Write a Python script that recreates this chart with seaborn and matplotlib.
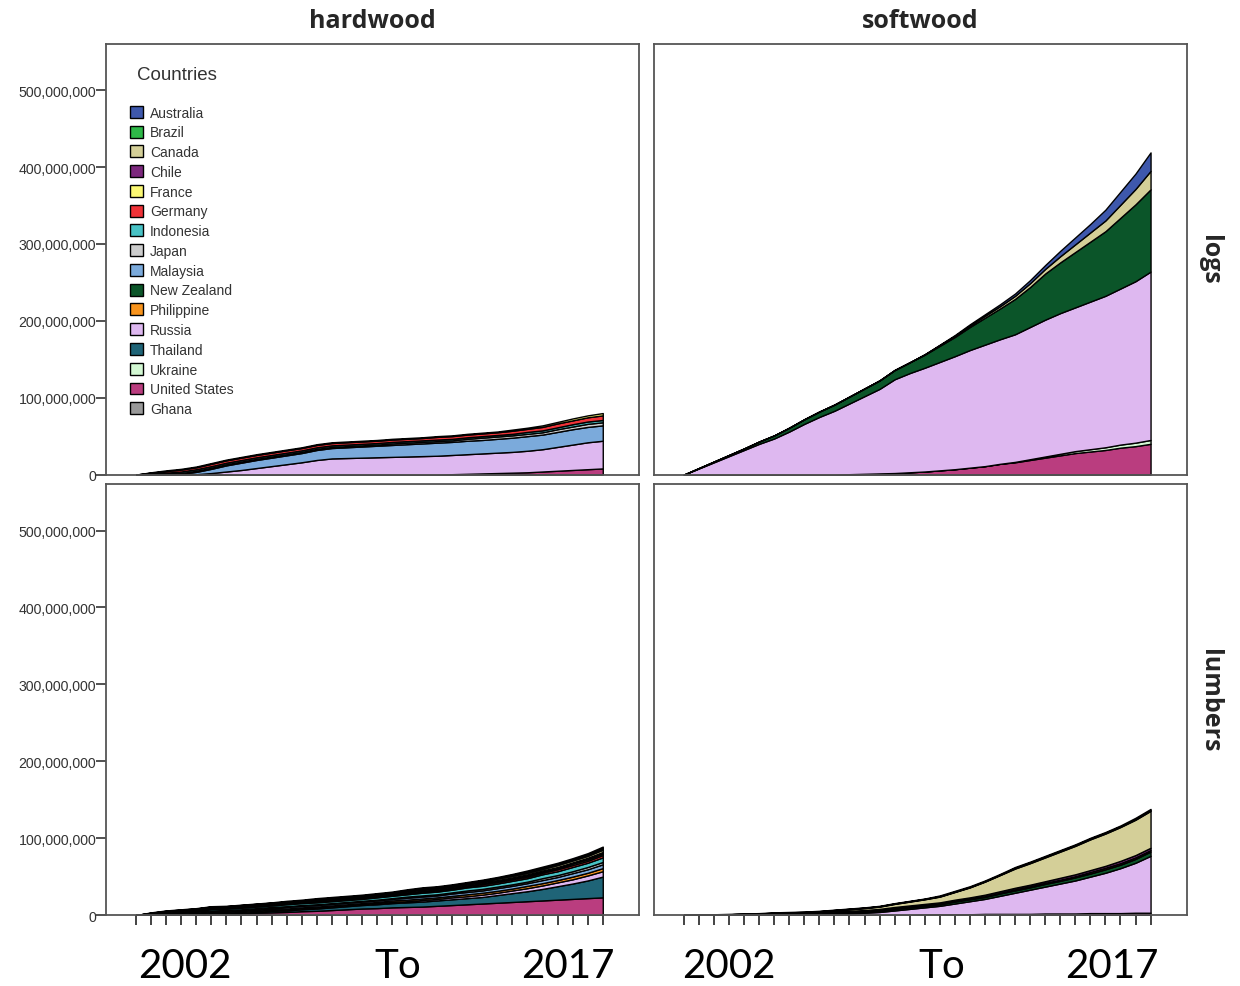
import pandas as pd
import seaborn as sns
import matplotlib.pyplot as plt
from matplotlib.patches import Patch
from matplotlib.ticker import FuncFormatter

sns.set_style("white")
plt.rcParams['font.family'] = ['Liberation Sans', 'DejaVu Sans']

# 32 half-year periods, 2002 .. 2017 (cumulative volumes, millions)
periods = list(range(32))

countries = ["Australia", "Brazil", "Canada", "Chile", "France", "Germany",
             "Indonesia", "Japan", "Malaysia", "New Zealand", "Philippine",
             "Russia", "Thailand", "Ukraine", "United States", "Ghana"]
country_colors = ["#3E58AC", "#2EB848", "#D4CF98", "#7C287D", "#FBF873", "#EF3338",
                  "#48C2C5", "#CCCCCC", "#7BAADB", "#0B5529", "#F8941D",
                  "#DEB8F0", "#1F6477", "#D3F8D3", "#BA3D7F", "#999999"]

# hardwood / logs
hw_logs_us = [0]*21 + [0.5, 1, 1.5, 2, 2.5, 3, 4, 5, 6, 7, 8]
hw_logs_russia = [0, 0, 0, 0, 0.5, 2, 4, 6, 8.5, 11, 13.5, 16, 19, 21, 21.5, 22,
                  22.5, 23, 23.5, 24, 24.5, 25, 25.5, 26, 26.5, 27, 28, 29, 31, 33, 35, 36]
hw_logs_malaysia = [0, 0, 0, 1, 3, 5.5, 8, 9.5, 10.5, 11, 11.5, 12, 13, 13.5, 14, 14.5,
                    15, 15.5, 16, 16.5, 17, 17, 17.5, 17.5, 18, 18.5, 19, 19, 19.5, 20, 20, 20]
hw_logs_japan = [0, 0.5, 1, 1, 1.5, 1.5, 1.5, 1.5, 1.5, 1.5, 1.5, 1.5, 1.5, 1.5, 1.5, 1.5,
                 1.5, 2, 2, 2, 2, 2, 2.5, 3, 3, 3, 3, 3, 3.5, 3.5, 4, 4]
hw_logs_indonesia = [0, 1, 1.5, 2, 2, 2, 2, 2, 2, 2, 2, 2, 2, 2, 2, 2,
                     2, 2, 2, 2, 2, 2, 2, 2, 2, 2, 2.5, 2.5, 2.5, 3, 3, 3]
hw_logs_germany = [0, 1, 2, 2.5, 2.5, 3, 3, 3, 3, 3, 3, 3, 3, 3, 3, 3,
                   3, 3, 3, 3, 3.5, 3.5, 3.5, 3.5, 3.5, 4, 4, 4.5, 5, 5, 5.5, 6]
hw_logs_france = [0, 0.5, 1, 1, 1, 1, 1, 1, 1, 1, 1, 1, 1, 1, 1, 1,
                  1, 1, 1, 1, 1, 1, 1, 1, 1, 1.5, 1.5, 2, 2, 2.5, 2.5, 3]

# softwood / logs
sw_logs_us = [0]*11 + [0.5, 1, 1.5, 2, 3, 4, 5.5, 7, 9, 11, 14, 16, 19, 22, 25, 28,
                       30, 32, 35, 37, 40]
sw_logs_ukraine = [0]*22 + [0.5, 1, 1.5, 2, 2.5, 3, 3.5, 4, 4.5, 5]
sw_logs_russia = [0, 8, 16, 24, 32, 40, 47, 56, 66, 75, 83, 92, 101, 110, 122, 129,
                  135, 141, 147, 153, 158, 162, 166, 172, 178, 183, 187, 192, 197, 203, 210, 219]
sw_logs_nz = [0, 0.5, 1, 1.5, 2, 3, 4, 5, 6, 7, 8, 9, 10, 11, 12, 14,
              17, 21, 25, 30, 35, 40, 46, 52, 60, 66, 72, 78, 84, 92, 100, 107]
sw_logs_canada = [0]*16 + [0.5, 1, 1.5, 2, 2.5, 3, 4, 5, 6, 8, 10, 12, 14, 17, 20, 24]
sw_logs_australia = [0]*17 + [0.5, 1, 1.5, 2, 2.5, 3, 4, 5, 7, 9, 11, 14, 17, 20, 24]

# hardwood / lumbers
hw_lum_us = [0, 0, 0, 0, 0.5, 1, 1.5, 2, 3, 3.5, 4, 5, 5.5, 6.5, 7.5, 8.5,
             9, 10, 10.5, 11, 12, 13, 14, 15, 16, 17, 18, 19, 20, 21, 22, 23]
hw_lum_thailand = [0, 0, 0, 0.5, 0.5, 1, 1, 1.5, 1.5, 2, 2, 2.5, 3, 3.5, 4, 4.5,
                   5, 5.5, 6, 6.5, 7, 7.5, 8, 8.5, 10, 11.5, 13, 15, 17.5, 20, 23, 27]
hw_lum_russia = [0, 0, 0, 0, 0, 0.5, 0.5, 0.5, 0.5, 1, 1, 1, 1, 1, 1, 1,
                 1.5, 1.5, 1.5, 2, 2, 2.5, 2.5, 3, 3, 3.5, 4, 4.5, 5, 5.5, 6.5, 7]
hw_lum_philippine = [0, 0.5, 0.5, 0.5, 1, 1, 1, 1, 1.5, 1.5, 1.5, 1.5, 1.5, 1.5, 1.5, 1.5,
                     1.5, 2, 2, 2, 2, 2, 2.5, 2.5, 2.5, 2.5, 3, 3, 3, 3.5, 3.5, 4]
hw_lum_malaysia = [0, 0.5, 1, 1, 1, 1.5, 1.5, 1.5, 1.5, 1.5, 2, 2, 2, 2, 2, 2,
                   2, 2, 2.5, 2.5, 2.5, 3, 3, 3, 3.5, 3.5, 3.5, 4, 4, 4.5, 4.5, 5]
hw_lum_japan = [0, 0.5, 0.5, 0.5, 1, 1, 1, 1, 1, 1, 1, 1, 1, 1, 1, 1,
                1, 1, 1.5, 1.5, 1.5, 1.5, 2, 2, 2, 2, 2, 2.5, 2.5, 2.5, 3, 3]
hw_lum_indonesia = [0, 0.5, 1, 1.5, 1.5, 2, 2, 2, 2, 2, 2.5, 2.5, 2.5, 2.5, 2.5, 2.5,
                    3, 3, 3, 3.5, 3.5, 3.5, 4, 4, 4, 4.5, 4.5, 5, 5, 5.5, 5.5, 6]
hw_lum_germany = [0, 0.5, 0.5, 0.5, 0.5, 0.5, 0.5, 1, 1, 1, 1, 1, 1, 1, 1, 1,
                  1, 1, 1.5, 1.5, 1.5, 1.5, 1.5, 2, 2, 2, 2, 2, 2.5, 2.5, 2.5, 3]
hw_lum_france = [0, 0, 0.5, 0.5, 0.5, 0.5, 0.5, 0.5, 0.5, 0.5, 0.5, 0.5, 1, 1, 1, 1,
                 1, 1, 1, 1, 1, 1, 1, 1.5, 1.5, 1.5, 1.5, 1.5, 1.5, 2, 2, 2]
hw_lum_chile = [0, 0, 0, 0.5, 0.5, 0.5, 0.5, 0.5, 0.5, 0.5, 0.5, 0.5, 0.5, 0.5, 0.5, 0.5,
                0.5, 0.5, 1, 1, 1, 1, 1, 1, 1, 1, 1.5, 1.5, 1.5, 1.5, 2, 2]
hw_lum_canada = [0, 0.5, 1, 1, 1, 1, 1, 1, 1, 1, 1, 1, 1, 1, 1, 1,
                 1, 1, 1, 1.5, 1.5, 1.5, 1.5, 1.5, 2, 2, 2, 2, 2.5, 2.5, 2.5, 3]
hw_lum_brazil = [0, 0, 0.5, 0.5, 0.5, 0.5, 0.5, 0.5, 0.5, 0.5, 0.5, 0.5, 1, 1, 1, 1,
                 1, 1, 1, 1, 1, 1, 1, 1, 1, 1.5, 1.5, 1.5, 1.5, 1.5, 2, 2]
hw_lum_australia = [0, 0.5, 0.5, 0.5, 0.5, 0.5, 0.5, 0.5, 0.5, 0.5, 1, 1, 1, 1, 1, 1,
                    1, 1, 1, 1, 1, 1, 1, 1, 1, 1, 1.5, 1.5, 1.5, 1.5, 1.5, 2]

# softwood / lumbers
sw_lum_us = [0]*13 + [0.5, 0.5, 0.5, 1, 1, 1, 1, 1.5, 1.5, 1.5, 1.5, 2, 2, 2, 2.5, 2.5,
                      2.5, 3, 3]
sw_lum_russia = [0, 0, 0, 0, 0, 0, 0, 0, 0, 0.5, 1, 2, 3, 3.5, 5.5, 7.5,
                 9, 11, 14, 17, 19.5, 23.5, 27.5, 31.5, 35, 39, 43, 47.5, 52.5, 58.5, 65, 74]
sw_lum_nz = [0, 0, 0.5, 0.5, 0.5, 0.5, 1, 1, 1, 1, 1.5, 1.5, 1.5, 1.5, 2, 2,
             2, 2, 2.5, 2.5, 2.5, 3, 3, 3, 3.5, 3.5, 4, 4, 4.5, 4.5, 5, 5.5]
sw_lum_germany = [0, 0, 0, 0, 0.5, 0.5, 0.5, 0.5, 0.5, 0.5, 1, 1, 1, 1, 1, 1,
                  1, 1, 1, 1, 1, 1, 1.5, 1.5, 1.5, 1.5, 1.5, 2, 2, 2, 2, 2]
sw_lum_chile = [0, 0, 0, 0.5, 0.5, 0.5, 0.5, 0.5, 1, 1, 1, 1, 1, 1.5, 1.5, 1.5,
                1.5, 1.5, 1.5, 1.5, 2, 2, 2, 2, 2, 2.5, 2.5, 2.5, 2.5, 3, 3, 3]
sw_lum_canada = [0, 0, 0, 0, 0, 0.5, 0.5, 1, 1, 1.5, 1.5, 2, 2.5, 3, 4, 5,
                 6, 7.5, 10, 13, 17, 21, 25, 28, 31, 34, 37, 40, 42, 44, 46, 48]
sw_lum_brazil = [0, 0, 0, 0, 0, 0, 0.5, 0.5, 0.5, 0.5, 0.5, 0.5, 0.5, 0.5, 0.5, 0.5,
                 0.5, 0.5, 0.5, 0.5, 0.5, 0.5, 1, 1, 1, 1, 1, 1, 1, 1, 1, 1]
sw_lum_australia = [0, 0.5, 0.5, 0.5, 0.5, 0.5, 0.5, 0.5, 0.5, 0.5, 0.5, 0.5, 0.5, 0.5, 0.5, 0.5,
                    0.5, 1, 1, 1, 1, 1, 1, 1, 1, 1, 1, 1, 1, 1, 1.5, 1.5]

panels = {
    ("hardwood", "logs"): {"United States": hw_logs_us, "Russia": hw_logs_russia,
                           "Malaysia": hw_logs_malaysia, "Japan": hw_logs_japan,
                           "Indonesia": hw_logs_indonesia, "Germany": hw_logs_germany,
                           "France": hw_logs_france},
    ("softwood", "logs"): {"United States": sw_logs_us, "Ukraine": sw_logs_ukraine,
                           "Russia": sw_logs_russia, "New Zealand": sw_logs_nz,
                           "Canada": sw_logs_canada, "Australia": sw_logs_australia},
    ("hardwood", "lumbers"): {"United States": hw_lum_us, "Thailand": hw_lum_thailand,
                              "Russia": hw_lum_russia, "Philippine": hw_lum_philippine,
                              "Malaysia": hw_lum_malaysia, "Japan": hw_lum_japan,
                              "Indonesia": hw_lum_indonesia, "Germany": hw_lum_germany,
                              "France": hw_lum_france, "Chile": hw_lum_chile,
                              "Canada": hw_lum_canada, "Brazil": hw_lum_brazil,
                              "Australia": hw_lum_australia},
    ("softwood", "lumbers"): {"United States": sw_lum_us, "Russia": sw_lum_russia,
                              "New Zealand": sw_lum_nz, "Germany": sw_lum_germany,
                              "Chile": sw_lum_chile, "Canada": sw_lum_canada,
                              "Brazil": sw_lum_brazil, "Australia": sw_lum_australia},
}

rows = []
for (wood, product), series in panels.items():
    for country, vals in series.items():
        for p, v in zip(periods, vals):
            rows.append((wood, product, country, p, v * 1e6))
df = pd.DataFrame(rows, columns=["wood", "product", "country", "period", "value"])

palette = dict(zip(countries, country_colors))
stack_order = countries[::-1]  # Ghana at the bottom, Australia on top


def stacked_area(data, **kws):
    ax = plt.gca()
    wide = data.pivot_table(index="period", columns="country", values="value", aggfunc="sum")
    cols = [c for c in stack_order if c in wide.columns]
    wide = wide[cols].fillna(0)
    ax.stackplot(wide.index, wide.T.values, colors=[palette[c] for c in cols],
                 edgecolor="black", linewidth=1.0)


g = sns.FacetGrid(df, row="product", col="wood", row_order=["logs", "lumbers"],
                  col_order=["hardwood", "softwood"], sharex=True, sharey=True,
                  despine=False, height=4.3, aspect=1.24)
g.map_dataframe(stacked_area)
g.figure.set_size_inches(12.4, 9.87)
g.figure.subplots_adjust(left=0.0855, right=0.957, top=0.9544, bottom=0.0719,
                         wspace=0.028, hspace=0.023)
g.set_titles("")
g.set_axis_labels("", "")

fmt = FuncFormatter(lambda v, pos: f"{v:,.0f}")
for i, product in enumerate(["logs", "lumbers"]):
    for j, wood in enumerate(["hardwood", "softwood"]):
        ax = g.axes[i, j]
        ax.set_xlim(-2, 33.4)
        ax.set_ylim(0, 5.6e8)
        ax.set_xticks(periods)
        ax.set_yticks([0, 1e8, 2e8, 3e8, 4e8, 5e8])
        ax.yaxis.set_major_formatter(fmt)
        for s in ax.spines.values():
            s.set_color("#555555")
            s.set_linewidth(1.3)
        ax.tick_params(axis="x", labelbottom=False, length=7 if i == 1 else 0,
                       width=1.2, color="#222222", direction="out", bottom=(i == 1))
        if j == 0:
            ax.tick_params(axis="y", left=True, length=7, width=1.2, color="#333333",
                           labelsize=10.2, labelcolor="#333333", pad=0)
        else:
            ax.tick_params(axis="y", left=False, labelleft=False)
        if i == 0:
            ax.set_title(wood, fontsize=18, fontweight="bold", family="Open Sans", pad=12)
        if j == 1:
            ax.text(1.043, 0.5, product, transform=ax.transAxes, rotation=-90,
                    ha="center", va="center", fontsize=18, fontweight="bold",
                    family="Open Sans")

ax0 = g.axes[0, 0]
handles = [Patch(facecolor=palette[c], edgecolor="black", linewidth=1.0, label=c)
           for c in countries]
leg = ax0.legend(handles=handles, loc="upper left", bbox_to_anchor=(0.045, 0.857),
                 frameon=False, fontsize=10, borderpad=0, borderaxespad=0,
                 handlelength=0.95, handleheight=0.95, handletextpad=0.5,
                 labelspacing=0.415)
for t in leg.get_texts():
    t.set_color("#333333")
ax0.text(0.058, 0.930, "Countries", transform=ax0.transAxes, ha="left", va="center",
         fontsize=13.5, color="#333333")

# category labels drawn under the x axis
for xc, label in [(185, "2002"), (398, "To"), (568, "2017"),
                  (729, "2002"), (942, "To"), (1112, "2017")]:
    g.figure.text(xc / 1240, 1 - 967 / 987, label, ha="center", va="center",
                  fontsize=29, family="Lato", color="black")

g.figure.savefig("out.png", dpi=100)
